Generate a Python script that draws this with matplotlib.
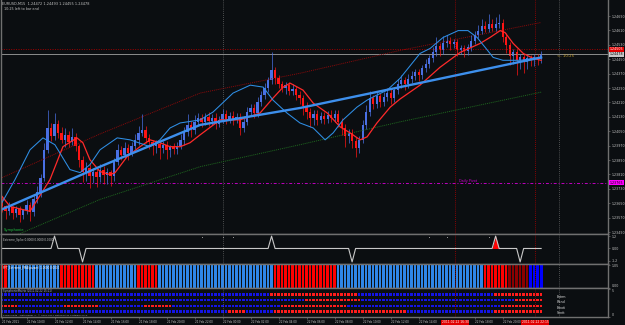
import numpy as np
import matplotlib
matplotlib.use('Agg')
import matplotlib.pyplot as plt
from matplotlib.transforms import blended_transform_factory

# ---- canvas / style ----
W, H = 625, 325
BG = '#0b0e11'
FRAME = '#707070'
TXT = '#c4c4c4'
UP = '#4a70e4'
DN = '#ff1414'
plt.rcParams['font.family'] = ['DejaVu Sans']

# ---- EURUSD M15 candles (21 Feb 08:15 .. 22 Feb 22:45) ----
first_open = 1.23671
closes = [
    1.23632, 1.23605, 1.23627, 1.23594, 1.23616, 1.23583, 1.23610, 1.23638, 1.23599, 1.23671,
    1.23715, 1.23792, 1.23947, 1.24068, 1.24024, 1.24091, 1.24041, 1.24002, 1.24030, 1.23991,
    1.24019, 1.23969, 1.23892, 1.23826, 1.23848, 1.23804, 1.23826, 1.23798, 1.23837, 1.23809,
    1.23826, 1.23804, 1.23881, 1.23947, 1.23919, 1.23958, 1.23930, 1.23969, 1.24002, 1.24041,
    1.24057, 1.24013, 1.23991, 1.23969, 1.23980, 1.23958, 1.23975, 1.23947, 1.23964, 1.23953,
    1.23969, 1.24002, 1.24046, 1.24085, 1.24057, 1.24102, 1.24124, 1.24102, 1.24129, 1.24107,
    1.24124, 1.24091, 1.24113, 1.24146, 1.24118, 1.24135, 1.24113, 1.24129, 1.24068, 1.24102,
    1.24157, 1.24179, 1.24151, 1.24212, 1.24251, 1.24289, 1.24333, 1.24389, 1.24344, 1.24311,
    1.24289, 1.24306, 1.24273, 1.24284, 1.24251, 1.24234, 1.24190, 1.24157, 1.24124, 1.24146,
    1.24113, 1.24135, 1.24118, 1.24140, 1.24124, 1.24146, 1.24102, 1.24068, 1.24024, 1.24041,
    1.23997, 1.23958, 1.24002, 1.24085, 1.24157, 1.24234, 1.24201, 1.24245, 1.24212, 1.24240,
    1.24262, 1.24234, 1.24278, 1.24311, 1.24333, 1.24311, 1.24339, 1.24356, 1.24378, 1.24361,
    1.24400, 1.24422, 1.24455, 1.24488, 1.24521, 1.24499, 1.24538, 1.24554, 1.24532, 1.24543,
    1.24499, 1.24510, 1.24494, 1.24516, 1.24554, 1.24587, 1.24609, 1.24632, 1.24620, 1.24643,
    1.24626, 1.24643, 1.24654, 1.24576, 1.24527, 1.24466, 1.24488, 1.24444, 1.24460, 1.24433,
    1.24455, 1.24444, 1.24460, 1.24449, 1.24478,
]
# wick length beyond the body, pips
wick_hi = [2, 1, 3, 1, 2, 2, 1, 3, 2, 3, 3, 2, 4, 10, 3, 6, 2, 3, 4, 2,
           5, 2, 1, 2, 3, 2, 2, 2, 3, 2, 2, 1, 2, 3, 2, 3, 2, 2, 3, 4,
           9, 2, 2, 1, 2, 1, 2, 2, 1, 2, 2, 3, 3, 6, 2, 4, 3, 2, 2, 3,
           2, 3, 2, 3, 2, 2, 3, 2, 2, 3, 3, 2, 2, 3, 2, 3, 2, 10, 2, 2,
           2, 2, 2, 3, 2, 2, 2, 2, 2, 2, 2, 2, 2, 2, 3, 2, 2, 2, 2, 2,
           2, 2, 2, 3, 4, 4, 2, 3, 2, 3, 3, 2, 2, 3, 3, 2, 3, 3, 2, 2,
           2, 3, 2, 3, 5, 2, 4, 3, 2, 2, 2, 2, 2, 2, 3, 2, 3, 4, 3, 6,
           3, 4, 5, 2, 2, 2, 2, 2, 2, 2, 2, 2, 2, 2, 2]
wick_lo = [3, 4, 2, 3, 2, 4, 2, 2, 5, 2, 2, 3, 2, 2, 3, 2, 3, 2, 4, 3,
           2, 3, 4, 6, 5, 7, 4, 6, 3, 5, 5, 6, 3, 2, 3, 2, 4, 2, 2, 3,
           2, 3, 4, 5, 4, 6, 3, 5, 4, 3, 3, 2, 3, 2, 4, 2, 2, 3, 2, 3,
           2, 3, 2, 2, 3, 2, 3, 2, 4, 2, 2, 2, 3, 2, 2, 2, 2, 2, 3, 2,
           2, 3, 2, 2, 3, 3, 5, 4, 5, 4, 3, 2, 3, 2, 2, 2, 3, 4, 6, 4,
           4, 5, 3, 2, 2, 2, 3, 2, 3, 2, 2, 3, 2, 2, 2, 3, 2, 2, 2, 3,
           2, 2, 2, 2, 2, 3, 2, 2, 3, 2, 3, 2, 3, 2, 2, 2, 2, 2, 2, 2,
           2, 2, 2, 3, 4, 5, 4, 8, 5, 6, 4, 3, 3, 3, 2]

# ---- overlay lines (candle index, price) ----
reg_idx = [0, 28, 56.6, 85.1, 113.7, 154]
reg_px = [1.23616, 1.23853, 1.24085, 1.24179, 1.24295, 1.24460]
upper_idx = [0, 28, 56.6, 85.1, 113.7, 154]
upper_px = [1.23792, 1.24035, 1.24262, 1.24372, 1.24499, 1.24654]
lower_idx = [0, 8, 28, 56.6, 85.1, 113.7, 154]
lower_px = [1.23439, 1.23505, 1.23671, 1.23853, 1.23975, 1.24102, 1.24267]
fast_idx = [0, 3.7, 8.0, 11.7, 15.1, 19.4, 22.3, 25.1, 28.0, 32.9, 36.6, 42.3, 45.1, 48.0,
            50.9, 56.6, 60.3, 66.0, 70.9, 74.6, 77.4, 81.4, 85.1, 88.9, 92.3, 94.6, 97.4,
            101.4, 104.3, 107.1, 110.0, 113.7, 119.4, 122.3, 126.0, 130.3, 133.1, 135.7,
            138.0, 140.3, 143.1, 148.0, 154]
fast_px = [1.23654, 1.23781, 1.23947, 1.24013, 1.23975, 1.23837, 1.23820, 1.23864, 1.23947,
           1.24013, 1.24002, 1.23964, 1.24002, 1.24068, 1.24096, 1.24113, 1.24157, 1.24262,
           1.24306, 1.24295, 1.24223, 1.24151, 1.24096, 1.24068, 1.24002, 1.24041, 1.24113,
           1.24184, 1.24223, 1.24251, 1.24278, 1.24344, 1.24482, 1.24510, 1.24571, 1.24609,
           1.24609, 1.24571, 1.24516, 1.24460, 1.24444, 1.24444, 1.24460]
slow_idx = [0, 2.3, 8.0, 13.7, 17.4, 21.4, 23.1, 25.1, 28.0, 30.9, 32.3, 35.7, 39.4, 42.3,
            45.1, 48.0, 50.9, 53.7, 56.6, 62.3, 68.0, 73.7, 77.4, 80.3, 82.3, 86.0, 88.9,
            92.9, 96.6, 99.4, 102.3, 104.3, 107.1, 110.9, 113.7, 119.4, 125.1, 130.9,
            136.6, 139.4, 142.3, 143.7, 146.0, 148.9, 151.7, 154]
slow_px = [1.23688, 1.23632, 1.23605, 1.23781, 1.23964, 1.24013, 1.23986, 1.23892, 1.23826,
           1.23809, 1.23820, 1.23908, 1.23964, 1.24002, 1.23986, 1.23964, 1.23964, 1.23986,
           1.24030, 1.24113, 1.24113, 1.24151, 1.24234, 1.24295, 1.24317, 1.24278, 1.24206,
           1.24151, 1.24074, 1.24041, 1.24002, 1.24019, 1.24096, 1.24184, 1.24229, 1.24306,
           1.24405, 1.24488, 1.24538, 1.24571, 1.24609, 1.24598, 1.24538, 1.24482, 1.24455,
           1.24444]

bid = 1.24478
ask_line = 1.24505
pivot = 1.23765
price_ticks = [1.23490, 1.23570, 1.23650, 1.23730, 1.23810, 1.23890, 1.23970, 1.24050,
               1.24130, 1.24210, 1.24290, 1.24370, 1.24450, 1.24530, 1.24610, 1.24690]
day_sep = [63, 159]
alert_idx = [129.4, 152.3]
alert_txt = ['2011.02.22 16:30', '2011.02.22 22:15']

# ---- Extreme_Spike ----
spike_idx = [15, 23, 77, 100, 141, 148]
spike_val = [1.2, -1.3, 1.2, -1.3, 1.2, -1.3]
spike_dot_idx = [57, 63, 66, 122, 127, 139]

# ---- FFT histogram: segment starts + state ----
fft_start = [0, 2, 17, 27, 39, 45, 78, 96, 138, 145, 151]
fft_state = ['dn', 'up', 'dn', 'up', 'dn', 'up', 'dn', 'up', 'dn', 'weak', 'flat']

# ---- SymphonieMatrix rows ----
matrix_names = ['Extrm', 'Trend', 'Emoti', 'Sentt']
matrix_start = [
    [0, 77, 102, 141],
    [0, 87, 103, 147],
    [0, 5, 18, 28, 41, 49, 80, 99, 143],
    [0, 65, 70, 78, 116, 141],
]
matrix_state = [
    ['up', 'dn', 'up', 'dn'],
    ['up', 'dn', 'up', 'dn'],
    ['dn', 'up', 'dn', 'up', 'dn', 'up', 'dn', 'up', 'dn'],
    ['up', 'dn', 'up', 'dn', 'up', 'dn'],
]

# visible time labels (16:00 and 22:00 of 22 Feb sit under the alert boxes)
time_idx = [0, 7, 15, 23, 31, 39, 47, 55, 63, 71, 79, 87, 95, 103, 111, 119, 135, 143]
time_lbl = ['21 Feb 2011', '21 Feb 10:00', '21 Feb 12:00', '21 Feb 14:00', '21 Feb 16:00',
            '21 Feb 18:00', '21 Feb 20:00', '21 Feb 22:00', '22 Feb 00:00', '22 Feb 02:00',
            '22 Feb 04:00', '22 Feb 06:00', '22 Feb 08:00', '22 Feb 10:00', '22 Feb 12:00',
            '22 Feb 14:00', '22 Feb 18:00', '22 Feb 20:00']


def add_px_axes(fig, x0, y0, x1, y1):
    ax = fig.add_axes([x0 / W, 1 - y1 / H, (x1 - x0) / W, (y1 - y0) / H])
    ax.set_facecolor(BG)
    for s in ax.spines.values():
        s.set_color(FRAME)
        s.set_linewidth(1.0)
    ax.set_xlim(-0.29, 173.1)
    ax.set_xticks([])
    ax.yaxis.tick_right()
    ax.tick_params(axis='y', colors=FRAME, labelcolor=TXT, labelsize=2.3,
                   length=1.5, width=0.5, pad=1)
    return ax


def vlines_all(ax):
    for d in day_sep:
        ax.axvline(d, color='#8a8a8a', lw=0.5, ls=(0, (1, 2)))
    for a in alert_idx:
        ax.axvline(a, color='#b00000', lw=0.6, ls=(0, (1, 1.5)))


fig = plt.figure(figsize=(W / 100, H / 100), dpi=100, facecolor=BG)
n = len(closes)
idx = np.arange(n)
c = np.array(closes)
o = np.concatenate([[first_open], c[:-1]])
hi = np.maximum(o, c) + np.array(wick_hi) * 1e-4
lo = np.minimum(o, c) - np.array(wick_lo) * 1e-4
up = c >= o
col = np.where(up, UP, DN)

# ================= main price panel =================
ax = add_px_axes(fig, 1, 0, 608, 234)
ax.spines['top'].set_visible(False)
ax.set_ylim(1.23479, 1.24779)
ax.set_yticks(price_ticks)
ax.set_yticklabels([f'{t:.5f}' for t in price_ticks])
vlines_all(ax)
ax.axhline(ask_line, color='#a00000', lw=0.7, ls=(0, (1, 1.5)))
ax.axhline(bid, color='#8c8c8c', lw=0.7)
ax.axhline(pivot, color='#c000c0', lw=0.7, ls=(0, (3, 2, 1, 2)))
ax.plot(upper_idx, upper_px, color='#8b0a0a', lw=0.7, ls=(0, (1, 1)))
ax.plot(lower_idx, lower_px, color='#1f6a1f', lw=0.7, ls=(0, (1, 1)))
ax.vlines(idx, lo, hi, colors=col, lw=0.5)
ax.bar(idx, np.maximum(np.abs(c - o), 0.00003), bottom=np.minimum(o, c),
       width=0.62, color=col, linewidth=0)
ax.plot(slow_idx, slow_px, color='#ff2a2a', lw=0.9)
ax.plot(fast_idx, fast_px, color='#2f8fe6', lw=0.75)
ax.plot(reg_idx, reg_px, color='#3d8fec', lw=1.7)

yt = ax.get_yaxis_transform()
ax.text(1.003, ask_line, '1.24505', transform=yt, fontsize=2.3, color='white',
        va='center', ha='left', bbox=dict(fc='#e00000', ec='none', pad=0.4))
ax.text(1.003, bid, '1.24478', transform=yt, fontsize=2.3, color='black',
        va='center', ha='left', bbox=dict(fc='#c8c8c8', ec='none', pad=0.4))
ax.text(1.003, pivot, '1.23765', transform=yt, fontsize=2.3, color='black',
        va='center', ha='left', bbox=dict(fc='#ff00ff', ec='none', pad=0.4))
ax.text(158.5, bid, '<- 10:25', fontsize=2.8, color='#c8a030', va='top', ha='left')
ax.text(130.5, pivot, 'Daily Pivot', fontsize=2.4, color='#d000d0', va='bottom', ha='left')
ax.text(0.005, 0.01, 'Symphonie', transform=ax.transAxes, fontsize=2.6,
        color='#20c040', va='bottom', ha='left')
fig.text(2 / W, 1 - 2 / H, 'EURUSD,M15  1.24472 1.24493 1.24455 1.24478',
         fontsize=2.5, color=TXT, va='top', ha='left')
fig.text(4 / W, 1 - 7 / H, '10:25 left to bar end', fontsize=2.4, color=TXT,
         va='top', ha='left')

# ================= Extreme_Spike =================
ax2 = add_px_axes(fig, 1, 234, 608, 264)
ax2.set_ylim(-1.5, 1.4)
ax2.set_yticks([1.2, 0.0, -1.2])
ax2.set_yticklabels(['1.2', '0.00', '-1.2'])
vlines_all(ax2)
spike = np.zeros(n)
spike[spike_idx] = spike_val
ax2.fill_between(idx[140:143], 0, spike[140:143], color='#ff0000', lw=0)
ax2.plot(idx, spike, color='#c8c8c8', lw=0.8)
ax2.scatter(spike_dot_idx, [1.1] * len(spike_dot_idx), s=0.5, color='#9a9a9a', lw=0)
ax2.text(0.004, 0.88, 'Extreme_Spike 0.0000 0.0000 0.0000', transform=ax2.transAxes,
         fontsize=2.0, color=TXT, va='top', ha='left')

# ================= FFT histogram =================
ax3 = add_px_axes(fig, 1, 264, 608, 288)
ax3.set_ylim(0, 1.1)
ax3.set_yticks([1.05, 0.0])
ax3.set_yticklabels(['1.05', '0.00'])
ax3.get_yticklabels()[1].set_verticalalignment('bottom')
fft_cmap = {'up': '#2f86e8', 'dn': '#ff0000', 'weak': '#8c0000', 'flat': '#0000ff'}
fft_col = []
for k, s in enumerate(fft_start):
    e = fft_start[k + 1] if k + 1 < len(fft_start) else n
    fft_col += [fft_cmap[fft_state[k]]] * (e - s)
ax3.bar(idx, [1.05] * n, width=0.78, color=fft_col, linewidth=0)
vlines_all(ax3)
ax3.text(0.004, 0.93, 'FFT_Extreme_FMA(param) 1.0000 0.0000', transform=ax3.transAxes,
         fontsize=2.0, color='white', va='top', ha='left')

# ================= SymphonieMatrix =================
ax4 = add_px_axes(fig, 1, 288, 608, 317)
ax4.set_ylim(0, 5.2)
ax4.set_yticks([5, 0])
ax4.set_yticklabels(['5', '0'])
ax4.get_yticklabels()[0].set_verticalalignment('top')
ax4.get_yticklabels()[1].set_verticalalignment('bottom')
vlines_all(ax4)
mat_cmap = {'up': '#1414e6', 'dn': '#ff1c1c'}
for r, name in enumerate(matrix_names):
    starts = matrix_start[r]
    cols = []
    for k, s in enumerate(starts):
        e = starts[k + 1] if k + 1 < len(starts) else n
        cols += [mat_cmap[matrix_state[r][k]]] * (e - s)
    yv = 4 - r
    ax4.scatter(idx, [yv] * n, marker='s', s=3.0, c=cols, linewidths=0)
    ax4.text(158.5, yv - 0.35, name, fontsize=2.3, color='#e0e0e0', va='center', ha='left')
ax4.text(0.004, 0.97, 'SymphonieMatrix (2011.02.22 15:11)', transform=ax4.transAxes,
         fontsize=1.9, color='#b0b0d0', va='top', ha='left')
ax4.text(0.004, 0.02, 'FXDD Malta - MetaTrader 4 - \u00a9 2001-2011 MetaQuotes Software Corp.',
         transform=ax4.transAxes, fontsize=1.7, color='#b0b0b0', va='bottom', ha='left')

# time axis
ax4.set_xticks(time_idx)
ax4.set_xticklabels(time_lbl)
ax4.tick_params(axis='x', colors=FRAME, labelcolor=TXT, labelsize=2.0, length=1.5,
                width=0.5, pad=1)
for lab in ax4.get_xticklabels():
    lab.set_horizontalalignment('left')
bt = blended_transform_factory(ax4.transData, ax4.transAxes)
for a, t in zip(alert_idx, alert_txt):
    ax4.text(a, -0.12, t, transform=bt, fontsize=2.2, color='white', va='top',
             ha='center', zorder=10, bbox=dict(fc='#e00000', ec='none', pad=0.6))

fig.savefig('out.png', dpi=100, facecolor=BG)
